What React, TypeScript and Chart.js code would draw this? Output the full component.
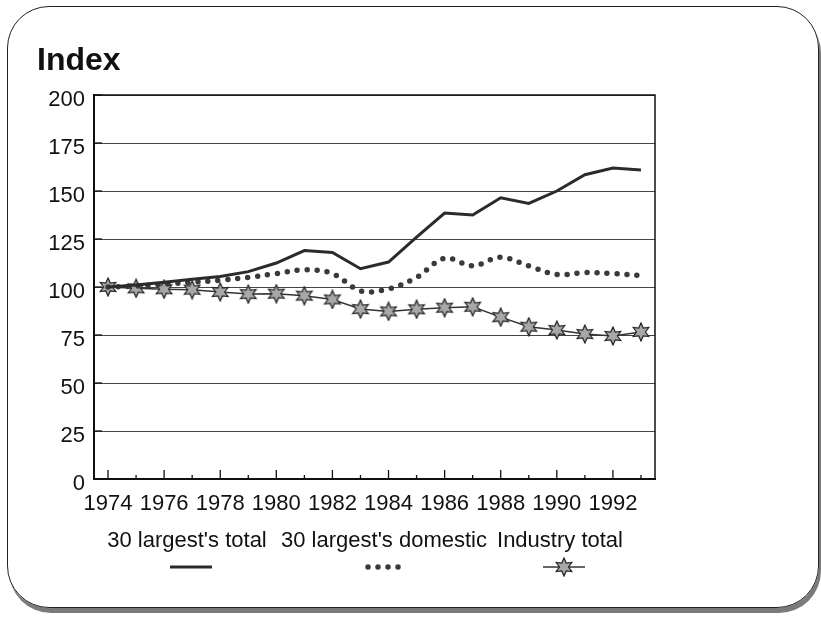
import React, { useEffect, useRef } from "react";
import { Chart, registerables } from "chart.js";

Chart.register(...registerables);

const years = [
  "1974", "1975", "1976", "1977", "1978", "1979", "1980", "1981", "1982", "1983",
  "1984", "1985", "1986", "1987", "1988", "1989", "1990", "1991", "1992", "1993",
];
const largestTotal = [100, 101, 102.5, 104, 105.5, 108, 112.5, 119, 118, 109.5, 113, 126, 138.5, 137.5, 146.5, 143.5, 150, 158.5, 162, 161];
const largestDomestic = [100, 100.5, 101.5, 102.5, 103.5, 105, 107, 109, 107, 98, 99, 105, 115, 111, 115.5, 111, 106.5, 107.5, 107, 106];
const industryTotal = [100, 99.3, 98.8, 98.6, 97.4, 96.3, 96.5, 95.5, 93.5, 88.5, 87.3, 88.4, 89.2, 89.7, 84.3, 79.3, 77.6, 75.5, 74.5, 76.6];
const seriesLabels = ["30 largest's total", "30 largest's domestic", "Industry total"];
const yTicks = [0, 25, 50, 75, 100, 125, 150, 175, 200];

const FONT = "'Liberation Sans', Arial, Helvetica, sans-serif";

function makeStar(): HTMLCanvasElement {
  const c = document.createElement("canvas");
  c.width = 20;
  c.height = 20;
  const g = c.getContext("2d")!;
  g.beginPath();
  for (let i = 0; i < 12; i++) {
    const r = i % 2 === 0 ? 9 : 4.5;
    const a = (Math.PI / 6) * i - Math.PI / 2;
    const x = 10 + r * Math.cos(a);
    const y = 10 + r * Math.sin(a);
    if (i === 0) g.moveTo(x, y);
    else g.lineTo(x, y);
  }
  g.closePath();
  g.fillStyle = "#a8a8a8";
  g.fill();
  g.lineWidth = 1.2;
  g.strokeStyle = "#222";
  g.stroke();
  return c;
}

export default function App() {
  const ref = useRef<HTMLCanvasElement | null>(null);

  useEffect(() => {
    if (!ref.current) return;
    const star = makeStar();

    const decor = {
      id: "decor",
      afterDraw(chart: any) {
        const ctx = chart.ctx;
        const a = chart.chartArea;
        const xs = chart.scales.x;
        const ys = chart.scales.y;
        ctx.save();
        ctx.strokeStyle = "#111";
        ctx.lineWidth = 1.5;
        ctx.strokeRect(a.left, a.top, a.right - a.left, a.bottom - a.top);
        ctx.lineWidth = 1.3;
        years.forEach((_, i) => {
          const x = xs.getPixelForValue(i);
          const len = i % 2 === 0 ? 9 : 4;
          ctx.beginPath();
          ctx.moveTo(x, a.bottom);
          ctx.lineTo(x, a.bottom - len);
          ctx.stroke();
        });
        yTicks.forEach((v) => {
          const y = ys.getPixelForValue(v);
          ctx.beginPath();
          ctx.moveTo(a.left, y);
          ctx.lineTo(a.left + 8, y);
          ctx.stroke();
        });
        ctx.fillStyle = "#111";
        ctx.font = `bold 32px ${FONT}`;
        ctx.textAlign = "left";
        ctx.textBaseline = "alphabetic";
        ctx.fillText("Index", 37, 70);
        ctx.font = `22px ${FONT}`;
        ctx.textAlign = "center";
        ctx.textBaseline = "middle";
        const centers = [187, 384, 560];
        seriesLabels.forEach((l, i) => ctx.fillText(l, centers[i], 541));
        const sy = 567;
        ctx.strokeStyle = "#2b2b2b";
        ctx.lineWidth = 3;
        ctx.beginPath();
        ctx.moveTo(170, sy);
        ctx.lineTo(212, sy);
        ctx.stroke();
        ctx.lineWidth = 5.5;
        ctx.lineCap = "round";
        ctx.setLineDash([0, 10]);
        ctx.strokeStyle = "#3a3a3a";
        ctx.beginPath();
        ctx.moveTo(368, sy);
        ctx.lineTo(404, sy);
        ctx.stroke();
        ctx.setLineDash([]);
        ctx.lineCap = "butt";
        ctx.lineWidth = 1.5;
        ctx.strokeStyle = "#333";
        ctx.beginPath();
        ctx.moveTo(543, sy);
        ctx.lineTo(585, sy);
        ctx.stroke();
        ctx.drawImage(star, 564 - 10, sy - 10);
        ctx.restore();
      },
    };

    const chart = new Chart(ref.current, {
      type: "line",
      data: {
        labels: years,
        datasets: [
          {
            label: seriesLabels[0],
            data: largestTotal,
            borderColor: "#2b2b2b",
            borderWidth: 3,
            pointRadius: 0,
            tension: 0,
          },
          {
            label: seriesLabels[1],
            data: largestDomestic,
            borderColor: "#3a3a3a",
            borderWidth: 5.5,
            borderDash: [0, 10],
            borderCapStyle: "round",
            pointRadius: 0,
            tension: 0.35,
          },
          {
            label: seriesLabels[2],
            data: industryTotal,
            borderColor: "#333",
            borderWidth: 1.5,
            pointStyle: star as any,
            pointRadius: 9,
            tension: 0,
          },
        ],
      },
      options: {
        animation: false,
        responsive: false,
        layout: { padding: { top: 95, right: 166, left: 0, bottom: 0 } },
        plugins: { legend: { display: false }, title: { display: false }, tooltip: { enabled: false } },
        scales: {
          x: {
            type: "category",
            offset: true,
            grid: { display: false },
            border: { display: true, color: "#111", width: 2 },
            ticks: {
              autoSkip: false,
              maxRotation: 0,
              padding: 4,
              color: "#111",
              font: { family: FONT, size: 22 },
              callback: (_v: any, i: number) => (i % 2 === 0 ? years[i] : ""),
            },
            afterFit: (s: any) => {
              s.height = 144;
            },
          },
          y: {
            min: 0,
            max: 200,
            afterBuildTicks: (s: any) => {
              s.ticks = yTicks.map((v) => ({ value: v }));
            },
            grid: { color: "#444", lineWidth: 1, drawTicks: false },
            border: { display: true, color: "#111", width: 2 },
            ticks: {
              padding: 9,
              labelOffset: 5,
              color: "#111",
              font: { family: FONT, size: 22 },
            },
            afterFit: (s: any) => {
              s.width = 94;
            },
          },
        },
      },
      plugins: [decor],
    });
    return () => chart.destroy();
  }, []);

  return (
    <div style={{ position: "fixed", left: 0, top: 0, width: 821, height: 623, background: "#fff" }}>
      <div
        style={{
          position: "absolute",
          left: 7,
          top: 6,
          width: 810,
          height: 600,
          border: "1.5px solid #222",
          borderRadius: 42,
          boxShadow: "2px 5px 0 #7a7a7a",
        }}
      />
      <canvas ref={ref} width={821} height={623} style={{ position: "absolute", left: 0, top: 0 }} />
    </div>
  );
}
